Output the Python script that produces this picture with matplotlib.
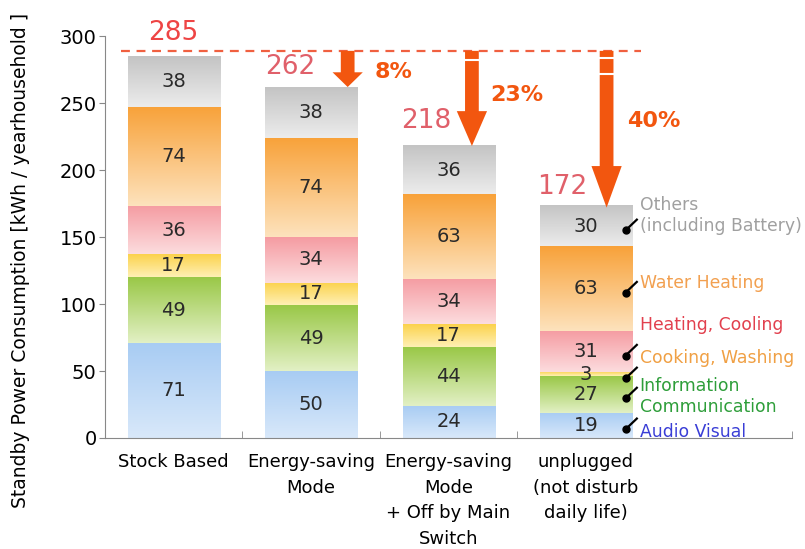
import numpy as np
import matplotlib
matplotlib.use('Agg')
import matplotlib.pyplot as plt
from matplotlib.colors import to_rgb

# data
scenarios = ['Stock Based', 'Energy-saving\nMode',
             'Energy-saving\nMode\n+ Off by Main\nSwitch',
             'unplugged\n(not disturb\ndaily life)']
totals = [285, 262, 218, 172]
audio_visual = [71, 50, 24, 19]
info_comm = [49, 49, 44, 27]
cooking_washing = [17, 17, 17, 3]
heating_cooling = [36, 34, 34, 31]
water_heating = [74, 74, 63, 63]
others = [38, 38, 36, 30]
reductions = ['8%', '23%', '40%']

layers = [audio_visual, info_comm, cooking_washing, heating_cooling, water_heating, others]
# (top colour, bottom colour) of the gradient for each layer
layer_colors = [('#a8ccf3', '#d8e8fa'), ('#9ac848', '#e2f0c4'), ('#fbd24c', '#fff0b4'),
                ('#f59ca2', '#fcdcde'), ('#f8a23a', '#fde2bc'), ('#c4c4c4', '#ececec')]

legend_names = ['Audio Visual', 'Information\nCommunication', 'Cooking, Washing',
                'Heating, Cooling', 'Water Heating', 'Others\n(including Battery)']
legend_colors = ['#3a3ed6', '#2e9e3a', '#f0a044', '#e2404e', '#f2a050', '#a0a0a0']
legend_y = [4.5, 31, 60, 84, 116, 166]

fig = plt.figure(figsize=(8.05, 5.49), dpi=100)
ax = fig.add_axes([0.1304, 0.2022, 0.8536, 0.732])

x = np.arange(len(scenarios))
w = 0.67
bottom = np.zeros(len(scenarios))
for vals, (ctop, cbot) in zip(layers, layer_colors):
    bars = ax.bar(x, vals, w, bottom=bottom, color=ctop, linewidth=0)
    grad = np.linspace(np.array(to_rgb(cbot)), np.array(to_rgb(ctop)), 64)[:, None, :]
    for b, v in zip(bars, vals):
        b.set_alpha(0)
        ax.imshow(grad, extent=(b.get_x(), b.get_x() + b.get_width(), b.get_y(), b.get_y() + b.get_height()),
                  origin='lower', aspect='auto', interpolation='bilinear', zorder=1)
        ax.text(b.get_x() + b.get_width() / 2, b.get_y() + b.get_height() / 2, str(v),
                ha='center', va='center', fontsize=14, color='#2a2a2a', zorder=3)
    bottom += vals

# totals
ax.text(0, 302, str(totals[0]), ha='center', va='center', fontsize=19, color='#ee4444', clip_on=False)
for i, (dx_, dy_) in zip([1, 2, 3], [(-0.15, 15), (-0.16, 19), (-0.17, 15)]):
    ax.text(x[i] + dx_, totals[i] + dy_, str(totals[i]), ha='center', va='center',
            fontsize=19, color='#e0606a')

# dashed reference line
ax.plot([-0.38, 3.40], [289, 289], color='#f06040', lw=1.6, ls=(0, (4, 3)), zorder=4)

# arrows
arrow_col = '#f2560f'
arrow_x = [1.266, 2.17, 3.15]
head_len = [11, 26, 31]
for ax_x, t, hl, lab, lx, ly in zip(arrow_x, totals[1:], head_len, reductions,
                                    [1.6, 2.5, 3.49], [273, 256, 237]):
    ax.arrow(ax_x, 289, 0, t - 289, width=0.1, head_width=0.22, head_length=hl,
             length_includes_head=True, color=arrow_col, lw=0, zorder=5)
    ax.text(lx, ly, lab, ha='center', va='center', fontsize=16, fontweight='bold', color=arrow_col)
for sx, sy in [(2.17, 282), (3.15, 284), (3.15, 272)]:
    ax.plot([sx - 0.06, sx + 0.06], [sy, sy], color='white', lw=1.5, zorder=6)

# category labels on the right
mids = np.cumsum(np.array(layers)[:, 3]) - np.array(layers)[:, 3] / 2
for m, name, col, ly in zip(mids, legend_names, legend_colors, legend_y):
    dot_y = m - 3
    ax.plot([3.288, 3.37], [dot_y, dot_y + 8], color='black', lw=1.6, zorder=6)
    ax.plot(3.288, dot_y, 'o', color='black', ms=5, zorder=6)
    ax.text(3.39, ly, name, ha='left', va='center', fontsize=12.4, color=col,
            linespacing=1.25, clip_on=False)

ax.set_xlim(-0.5, 4.5)
ax.set_ylim(0, 300)
ax.set_yticks(range(0, 301, 50))
ax.set_xticks(x)
ax.set_xticklabels(scenarios, fontsize=13, linespacing=1.53)
ax.set_xticks([0.5, 1.5, 2.5, 4.5], minor=True)
ax.tick_params(axis='x', which='major', length=0, pad=11)
ax.tick_params(axis='x', which='minor', direction='in', length=5, color='#888888')
ax.tick_params(axis='y', labelsize=14, length=4, color='#888888', pad=2)
for s in ['top', 'right']:
    ax.spines[s].set_visible(False)
for s in ['left', 'bottom']:
    ax.spines[s].set_color('#888888')
ax.set_ylabel('Standby Power Consumption [kWh / yearhousehold ]', fontsize=13.5)
ax.yaxis.set_label_coords(-0.109, 0.443)

plt.savefig('out.png', dpi=100)
